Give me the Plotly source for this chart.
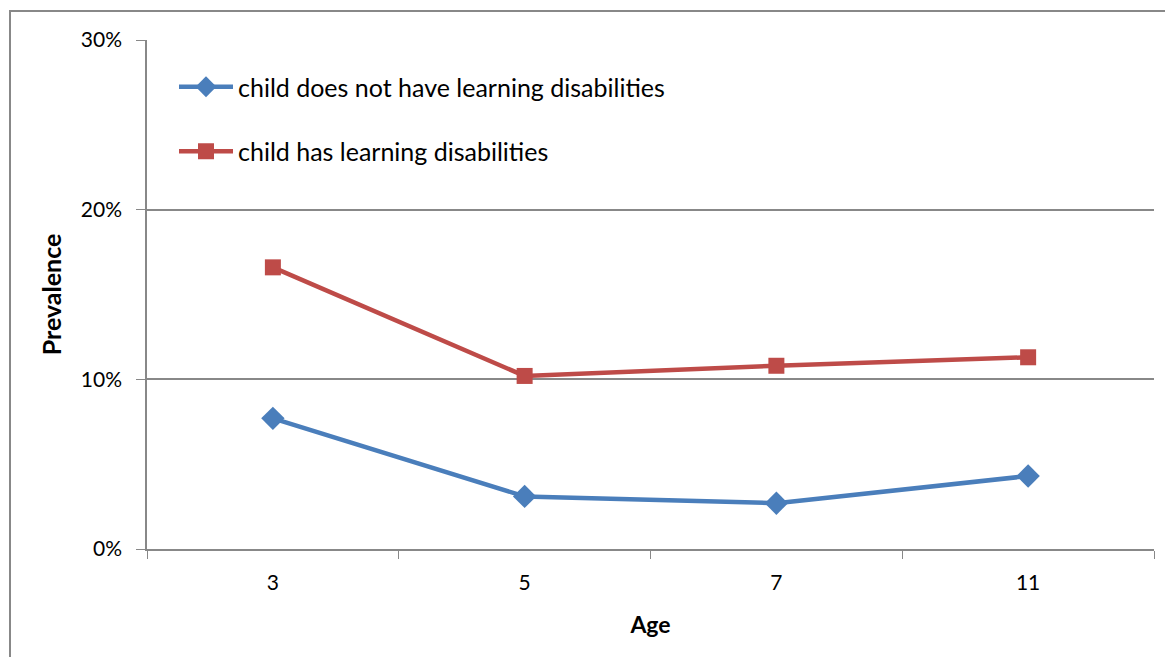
import plotly.graph_objects as go

ages = ["3", "5", "7", "11"]
no_ld = [0.077, 0.031, 0.027, 0.043]
has_ld = [0.166, 0.102, 0.108, 0.113]
series_names = ["child does not have learning disabilities", "child has learning disabilities"]
y_ticks = [0, 0.1, 0.2, 0.3]

FONT = "Lato"
# page offset from browser default body margin
OFF = 8
W, H = 1173, 657
# target plot area in page coords: x 147..1154, y 40..549
L = 147 - OFF
T = 40 - OFF
R = W - (1154 - OFF)
B = H - (549 - OFF)
pw, ph = W - L - R, H - T - B

def px(x):  # page x -> paper
    return (x - OFF - L) / pw

def py(y):  # page y -> paper
    return (H - B - (y - OFF)) / ph

fig = go.Figure()
fig.add_trace(go.Scatter(x=ages, y=no_ld, mode="lines+markers", name=series_names[0],
                         legendgroup="a",
                         line=dict(color="#4a7ebb", width=4.5),
                         marker=dict(symbol="diamond", size=18, color="#4a7ebb")))
fig.add_trace(go.Scatter(x=ages, y=has_ld, mode="lines+markers", name=series_names[1],
                         legendgroup="b",
                         line=dict(color="#be4b48", width=4.5),
                         marker=dict(symbol="square", size=16, color="#be4b48")))

fig.update_layout(
    width=W, height=H,
    margin=dict(l=L, r=R, t=T, b=B),
    paper_bgcolor="white", plot_bgcolor="white",
    font=dict(family=FONT, size=21, color="black"),
    showlegend=True,
    legend=dict(x=px(174), y=py(64), xanchor="left", yanchor="top",
                bgcolor="rgba(0,0,0,0)", tracegroupgap=29, itemwidth=54,
                font=dict(family=FONT, size=25)),
    xaxis=dict(type="category", range=[-0.5, 3.5], showline=True, linecolor="#888888",
               linewidth=1.5, ticks="outside", tickson="boundaries", ticklen=8,
               tickcolor="#888888", showgrid=False, zeroline=False,
               ticklabelstandoff=14,
               tickfont=dict(family=FONT, size=21),
               title=dict(text="<b>Age</b>", font=dict(family=FONT, size=23), standoff=24)),
    yaxis=dict(range=[0, 0.30], tickvals=y_ticks, tickformat=".0%", showline=True,
               linecolor="#888888", linewidth=1.5, ticks="outside", ticklen=9,
               tickcolor="#888888", showgrid=True, gridcolor="#888888", gridwidth=1.5,
               zeroline=False, ticklabelstandoff=10,
               tickfont=dict(family=FONT, size=21),
               title=dict(text="<b>Prevalence</b>", font=dict(family=FONT, size=25), standoff=12)),
    shapes=[dict(type="rect", xref="paper", yref="paper",
                 x0=px(10), x1=px(1250), y0=py(720), y1=py(11),
                 line=dict(color="#888888", width=2), fillcolor="rgba(0,0,0,0)", layer="below")],
)

fig.write_html("out.html")
